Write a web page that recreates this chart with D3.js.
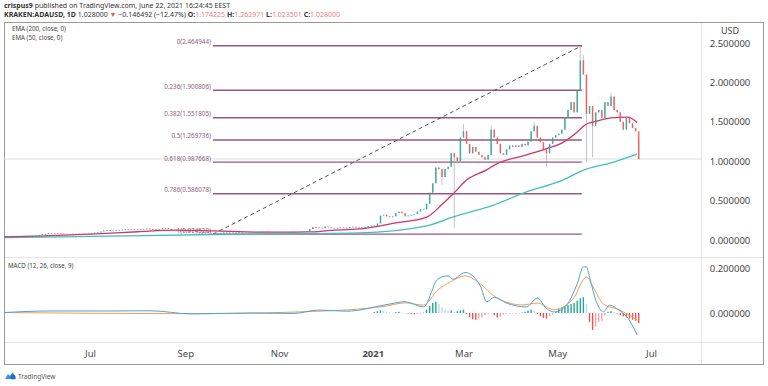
<!DOCTYPE html>
<html>
<head>
<meta charset="utf-8">
<script src="https://cdn.jsdelivr.net/npm/d3@7"></script>
<style>
body { margin: 0; background: #fff; }
svg { display: block; font-family: "Noto Sans", sans-serif; }
text { white-space: pre; }
</style>
</head>
<body>
<script>
// one candle every 2 days, starting here
var firstDay = "2020-05-06";
var closes = [
  0.048,0.050,0.052,0.050,0.048,0.050,0.052,0.051,0.050,0.052,0.055,0.065,0.072,         // May 20
  0.078,0.085,0.088,0.086,0.084,0.080,0.078,0.077,0.075,0.080,0.081,0.080,0.079,0.078,0.081, // Jun
  0.087,0.094,0.096,0.108,0.120,0.125,0.118,0.120,0.125,0.128,0.132,0.138,0.136,0.132,0.140,0.134, // Jul
  0.140,0.142,0.145,0.138,0.130,0.136,0.140,0.148,0.150,0.140,0.128,0.120,0.118,0.115,0.118, // Aug
  0.112,0.100,0.090,0.092,0.090,0.088,0.095,0.090,0.086,0.082,0.078,0.088,0.095,0.096,0.097, // Sep
  0.095,0.095,0.100,0.104,0.106,0.103,0.100,0.102,0.103,0.106,0.108,0.104,0.100,0.098,0.100,0.102, // Oct
  0.098,0.096,0.100,0.106,0.104,0.102,0.104,0.106,0.110,0.140,0.165,0.160,0.155,0.150,0.170, // Nov
  0.160,0.155,0.150,0.155,0.160,0.158,0.150,0.165,0.170,0.160,0.155,0.160,0.165,0.175,0.182, // Dec
  0.175,0.210,0.310,0.320,0.300,0.290,0.300,0.340,0.360,0.340,0.300,0.310,0.320,0.330,0.360,0.390, // Jan 21
  0.390,0.460,0.600,0.720,0.920,0.900,0.800,0.900,0.930,1.100,1.050,1.000,1.300,1.380,       // Feb
  1.220,1.100,1.180,1.120,1.080,1.050,1.020,1.080,1.400,1.300,1.220,1.100,1.080,1.150,1.200, // Mar
  1.180,1.200,1.180,1.220,1.200,1.250,1.380,1.450,1.300,1.240,1.150,1.100,1.220,1.300,1.330, // Apr
  1.350,1.400,1.550,1.650,1.750,1.620,1.900,2.280,2.100,1.600,1.700,1.450,1.620,1.650,1.550,1.750, // May
  1.700,1.820,1.650,1.620,1.500,1.400,1.550,1.480,1.420,1.380,1.028                          // Jun
];
// [date, high, low] for the long wicks
var wicks = [
  ["2021-02-14", null, 0.70], ["2021-02-22", null, 0.15], ["2021-02-28", 1.47, null],
  ["2021-03-18", 1.45, null], ["2021-04-15", 1.50, null], ["2021-04-23", null, 0.93],
  ["2021-05-15", 2.46, null], ["2021-05-17", 2.35, null], ["2021-05-19", null, 0.99],
  ["2021-05-23", null, 1.05], ["2021-06-04", 1.87, null], ["2021-06-22", 1.262971, 1.023501]
];

var ema50 = [["2020-05-06",0.040],["2020-06-01",0.052],["2020-07-01",0.075],["2020-08-01",0.105],["2020-08-25",0.125],
  ["2020-09-20",0.115],["2020-10-20",0.100],["2020-11-20",0.102],["2020-12-05",0.122],["2020-12-23",0.14],
  ["2021-01-14",0.21],["2021-02-05",0.29],["2021-02-15",0.45],["2021-02-22",0.58],["2021-03-03",0.76],
  ["2021-03-16",0.89],["2021-03-22",0.96],["2021-04-11",1.08],["2021-04-24",1.16],["2021-05-04",1.23],
  ["2021-05-14",1.37],["2021-05-19",1.46],["2021-05-25",1.50],["2021-06-05",1.55],["2021-06-16",1.56],["2021-06-22",1.49]];
var ema200 = [["2020-05-06",0.030],["2020-07-01",0.045],["2020-09-20",0.070],["2020-12-23",0.090],["2021-02-05",0.18],
  ["2021-02-22",0.29],["2021-03-20",0.44],["2021-04-11",0.61],["2021-05-02",0.74],["2021-05-20",0.90],
  ["2021-06-05",0.98],["2021-06-22",1.09]];

var fibRatios = [0, 0.236, 0.382, 0.5, 0.618, 0.786, 1];
var fibPrices = [2.464944, 1.900806, 1.551805, 1.269736, 0.987668, 0.586078, 0.074528];
var fibFrom = "2020-09-19", fibTo = "2021-05-17";
var lastPrice = 1.028;

var macdLine = [["2020-05-06",0.002],["2020-06-05",0.009],["2020-07-14",0.009],["2020-08-09",0.010],["2020-09-05",-0.004],
  ["2020-10-14",0.0],["2020-11-10",-0.002],["2020-11-27",0.013],["2020-12-15",0.008],["2021-01-09",0.036],
  ["2021-01-22",0.05],["2021-02-03",0.027],["2021-02-05",0.04],["2021-02-08",0.09],["2021-02-12",0.15],
  ["2021-02-19",0.165],["2021-02-22",0.15],["2021-03-02",0.18],["2021-03-12",0.12],["2021-03-16",0.05],
  ["2021-03-21",0.07],["2021-03-29",0.044],["2021-04-11",0.027],["2021-04-18",0.066],["2021-04-24",0.02],
  ["2021-04-29",0.005],["2021-05-07",0.035],["2021-05-14",0.13],["2021-05-18",0.205],["2021-05-20",0.205],
  ["2021-05-22",0.16],["2021-05-26",0.058],["2021-05-31",0.005],["2021-06-04",0.035],["2021-06-10",0.013],
  ["2021-06-16",-0.023],["2021-06-22",-0.098]];
var signalLine = [["2020-05-06",0.002],["2020-09-05",-0.003],["2020-11-27",0.008],["2021-01-09",0.03],["2021-01-22",0.045],
  ["2021-02-03",0.035],["2021-02-12",0.10],["2021-02-21",0.14],["2021-03-02",0.165],["2021-03-12",0.13],
  ["2021-03-21",0.075],["2021-04-08",0.036],["2021-04-18",0.044],["2021-04-29",0.015],["2021-05-12",0.07],
  ["2021-05-20",0.16],["2021-05-24",0.12],["2021-05-31",0.04],["2021-06-10",0.015],["2021-06-22",-0.031]];
// histogram, every 2 days from this date
var histFirstDay = "2021-01-01";
var hist = [
  0.004,0.008,0.012,0.010,0.006,0.003,0.002,0.004,0.005,0.003,0.000,-0.003,-0.005,-0.006,-0.005,-0.004,
  0.002,0.015,0.030,0.045,0.050,0.040,0.025,0.015,0.010,0.012,0.005,0.008,0.012,0.015,
  -0.005,-0.018,-0.028,-0.030,-0.025,-0.020,-0.010,-0.005,-0.002,-0.010,-0.020,-0.018,-0.008,-0.004,-0.003,
  -0.002,-0.002,-0.001,0.002,0.005,0.010,0.015,0.012,-0.005,-0.015,-0.022,-0.025,-0.015,-0.008,0.005,
  0.020,0.025,0.030,0.035,0.040,0.045,0.055,0.065,0.070,0.040,-0.040,-0.075,-0.060,-0.040,-0.035,-0.010,
  0.005,0.008,0.004,-0.002,-0.010,-0.015,-0.020,-0.025,-0.030,-0.035,-0.045
];

var priceTicks = [0, 0.5, 1, 1.5, 2, 2.5];
var macdTicks = [0, 0.2];
var timeTickDates = ["2020-07-01","2020-09-01","2020-11-01","2021-01-01","2021-03-01","2021-05-01","2021-07-01"];
var timeTickLabels = ["Jul","Sep","Nov","2021","Mar","May","Jul"];

var width = 768, height = 386;
var DAY = 864e5;
var parse = d3.utcParse("%Y-%m-%d"), fmt = d3.utcFormat("%Y-%m-%d");

var svg = d3.select("body").append("svg").attr("width", width).attr("height", height);

var x = d3.scaleUtc().domain([parse("2020-07-01"), parse("2021-07-01")]).range([90, 651]);
var y = d3.scaleLinear().domain([0, 2.5]).range([240, 43]);
var ym = d3.scaleLinear().domain([0, 0.2]).range([313, 268]);

svg.append("clipPath").attr("id", "main").append("rect")
  .attr("x", 4).attr("y", 22).attr("width", 697).attr("height", 235);
svg.append("clipPath").attr("id", "sub").append("rect")
  .attr("x", 4).attr("y", 257).attr("width", 697).attr("height", 85);

// frame
svg.append("line").attr("x1", 4).attr("x2", 764).attr("y1", 257.5).attr("y2", 257.5).attr("stroke", "#e6e6e6");
svg.append("line").attr("x1", 4).attr("x2", 764).attr("y1", 342.5).attr("y2", 342.5).attr("stroke", "#e6e6e6");
svg.append("line").attr("x1", 701.5).attr("x2", 701.5).attr("y1", 22).attr("y2", 365).attr("stroke", "#e6e6e6");
svg.append("rect").attr("x", 4.5).attr("y", 22.5).attr("width", 759).attr("height", 342)
  .attr("fill", "none").attr("stroke", "#9a9a9a");

// header
var head = svg.append("g").attr("font-size", 7).attr("fill", "#333");
head.append("text").attr("x", 4).attr("y", 8)
  .call(function(t) {
    t.append("tspan").attr("font-weight", "bold").text("crispus9");
    t.append("tspan").text(" published on TradingView.com, June 22, 2021 16:24:45 EEST");
  });
var l2 = head.append("text").attr("x", 4).attr("y", 17);
l2.append("tspan").attr("font-weight", "bold").text("KRAKEN:ADAUSD, 1D ");
l2.append("tspan").text("1.028000 ");
l2.append("tspan").attr("fill", "#ef5350").text("▼");
l2.append("tspan").text(" −0.146492 (−12.47%) ");
[["O:", "1.174225"], ["H:", "1.262971"], ["L:", "1.023501"], ["C:", "1.028000"]].forEach(function(p, i) {
  l2.append("tspan").attr("font-weight", "bold").text(p[0]);
  l2.append("tspan").attr("fill", "#f08080").text(p[1] + (i < 3 ? " " : ""));
});

// legends
var leg = svg.append("g").attr("font-size", 6.2).attr("fill", "#444");
leg.append("text").attr("x", 12).attr("y", 31).text("EMA (200, close, 0)");
leg.append("text").attr("x", 12).attr("y", 39.5).text("EMA (50, close, 0)");
leg.append("text").attr("x", 8).attr("y", 268).text("MACD (12, 26, close, 9)");

var main = svg.append("g").attr("clip-path", "url(#main)");

// last price line
main.append("line").attr("x1", 4).attr("x2", 701)
  .attr("y1", y(lastPrice)).attr("y2", y(lastPrice)).attr("stroke", "#d4d4d4").attr("stroke-width", 0.8);

// fibonacci retracement
var fx0 = x(parse(fibFrom)), fx1 = x(parse(fibTo));
var fib = main.append("g");
fib.selectAll("line").data(fibPrices).enter().append("line")
  .attr("x1", fx0).attr("x2", fx1)
  .attr("y1", function(d) { return y(d); }).attr("y2", function(d) { return y(d); })
  .attr("stroke", "#9c567b").attr("stroke-width", 1.4);
fib.selectAll("text").data(fibPrices).enter().append("text")
  .attr("x", fx0 - 2).attr("y", function(d) { return y(d) - 1.5; })
  .attr("text-anchor", "end").attr("font-size", 6.3).attr("fill", "#8e5f80")
  .text(function(d, i) { return fibRatios[i] + "(" + d.toFixed(6) + ")"; });
main.append("line")
  .attr("x1", fx0).attr("y1", y(fibPrices[6])).attr("x2", fx1).attr("y2", y(fibPrices[0]))
  .attr("stroke", "#555").attr("stroke-width", 1).attr("stroke-dasharray", "4,3");

// emas
var emaLine = d3.line().curve(d3.curveMonotoneX)
  .x(function(d) { return x(parse(d[0])); }).y(function(d) { return y(d[1]); });
main.append("path").attr("d", emaLine(ema200)).attr("fill", "none").attr("stroke", "#3fbfc4").attr("stroke-width", 1.3);
main.append("path").attr("d", emaLine(ema50)).attr("fill", "none").attr("stroke", "#d2336a").attr("stroke-width", 1.3);

// candles
var t0 = parse(firstDay).getTime();
var candles = closes.map(function(c, i) {
  var o = i ? closes[i - 1] : c;
  return { date: new Date(t0 + i * 2 * DAY), o: o, c: c, h: Math.max(o, c), l: Math.min(o, c) };
});
var wickMap = {};
wicks.forEach(function(w) { wickMap[w[0]] = w; });
candles.forEach(function(d) {
  var w = wickMap[fmt(d.date)];
  if (w) { if (w[1] != null) d.h = w[1]; if (w[2] != null) d.l = w[2]; }
});
var cg = main.append("g");
var cs = cg.selectAll("g").data(candles).enter().append("g")
  .attr("transform", function(d) { return "translate(" + x(new Date(d.date.getTime() + DAY)) + ",0)"; });
function col(d) { return d.c >= d.o ? "#26a69a" : "#ef5350"; }
cs.append("line").attr("y1", function(d) { return y(d.h); }).attr("y2", function(d) { return y(d.l); })
  .attr("stroke", "#8a8a8a").attr("stroke-width", 0.7).attr("opacity", 0.7);
cs.append("rect").attr("x", -0.75).attr("width", 1.5)
  .attr("y", function(d) { return y(Math.max(d.o, d.c)); })
  .attr("height", function(d) { return Math.max(0.8, Math.abs(y(d.o) - y(d.c))); })
  .attr("fill", col).attr("opacity", 0.85);

// price axis
var pa = svg.append("g").attr("transform", "translate(701,0)")
  .call(d3.axisRight(y).tickValues(priceTicks).tickSize(0).tickFormat(d3.format(".6f")));
pa.select(".domain").remove();
pa.selectAll("text").attr("x", 29).attr("text-anchor", "middle")
  .attr("font-family", "Noto Sans").attr("font-size", 9.5).attr("fill", "#4a4a4a");
svg.append("text").attr("x", 730).attr("y", 34).attr("text-anchor", "middle")
  .attr("font-size", 9).attr("fill", "#4a4a4a").text("USD");

// macd pane
var sub = svg.append("g").attr("clip-path", "url(#sub)");
var hs = parse(histFirstDay).getTime();
var bars = hist.map(function(v, i) {
  var prev = i ? hist[i - 1] : 0;
  var c = v >= 0 ? (v >= prev ? "#26a69a" : "#b2dfdb") : (v <= prev ? "#ef5350" : "#f5a6a6");
  return { date: new Date(hs + i * 2 * DAY), v: v, c: c };
});
sub.selectAll("rect.h").data(bars).enter().append("rect").attr("class", "h")
  .attr("x", function(d) { return x(new Date(d.date.getTime() + DAY)) - 0.7; })
  .attr("width", 1.4)
  .attr("y", function(d) { return Math.min(ym(0), ym(d.v)); })
  .attr("height", function(d) { return Math.max(0.5, Math.abs(ym(d.v) - ym(0))); })
  .attr("fill", function(d) { return d.c; });
var mLine = d3.line().curve(d3.curveMonotoneX)
  .x(function(d) { return x(parse(d[0])); }).y(function(d) { return ym(d[1]); });
sub.append("path").attr("d", mLine(signalLine)).attr("fill", "none").attr("stroke", "#f5a04a").attr("stroke-width", 1);
sub.append("path").attr("d", mLine(macdLine)).attr("fill", "none").attr("stroke", "#4aa3df").attr("stroke-width", 1);

var ma = svg.append("g").attr("transform", "translate(701,0)")
  .call(d3.axisRight(ym).tickValues(macdTicks).tickSize(0).tickFormat(d3.format(".6f")));
ma.select(".domain").remove();
ma.selectAll("text").attr("x", 29).attr("text-anchor", "middle")
  .attr("font-family", "Noto Sans").attr("font-size", 9.5).attr("fill", "#4a4a4a");

// time axis
var ta = svg.append("g").attr("transform", "translate(0,342)")
  .call(d3.axisBottom(x).tickValues(timeTickDates.map(parse)).tickSize(0)
    .tickFormat(function(d, i) { return timeTickLabels[i]; }));
ta.select(".domain").remove();
ta.selectAll("text").attr("y", 8).attr("font-family", "Noto Sans").attr("font-size", 9.5).attr("fill", "#4a4a4a")
  .attr("font-weight", function(d, i) { return timeTickLabels[i] === "2021" ? "bold" : "normal"; });

// tradingview mark
var logo = svg.append("g").attr("transform", "translate(5,371)");
logo.append("path").attr("d", "M0,8 L3,3 L5,5 L8,1 L11,8 Z").attr("fill", "#3a8fe0");
logo.append("circle").attr("cx", 8).attr("cy", 6).attr("r", 2.5).attr("fill", "#1f6fc9");
svg.append("text").attr("x", 18).attr("y", 378.5).attr("font-size", 6.5).attr("fill", "#555").text("TradingView");
</script>
</body>
</html>
